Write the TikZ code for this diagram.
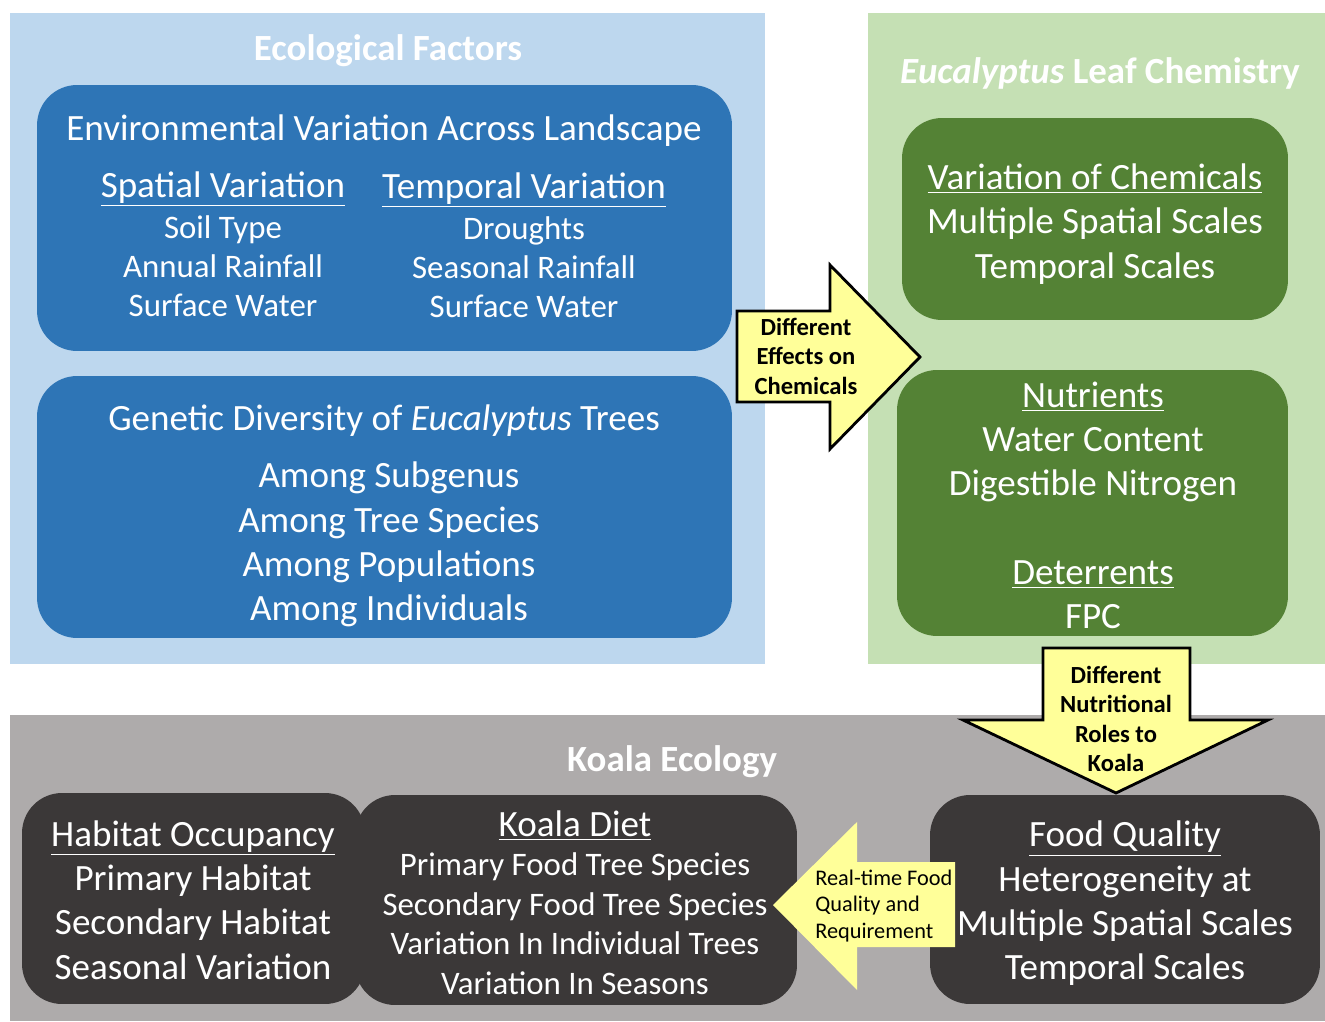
\documentclass[tikz,border=0pt]{standalone}
\usepackage{fontspec}
\setmainfont{Carlito}

\definecolor{panelblue}{HTML}{BDD7EE}
\definecolor{panelgreen}{HTML}{C5E0B4}
\definecolor{panelgrey}{HTML}{AEABAB}
\definecolor{boxblue}{HTML}{2E75B6}
\definecolor{boxgreen}{HTML}{548235}
\definecolor{boxdark}{HTML}{3B3838}
\definecolor{arrowyellow}{HTML}{FFFF99}

\tikzset{
  panel/.style={fill=#1, draw=none, inner sep=0pt},
  box/.style={fill=#1, draw=none, rounded corners=0.8cm, inner sep=0pt},
  bigtxt/.style={text=white, align=center, inner sep=0pt, font=\fontsize{21.1}{25.2}\selectfont},
  smalltxt/.style={text=white, align=center, inner sep=0pt, font=\fontsize{18.7}{22.2}\selectfont},
  headtxt/.style={text=white, inner sep=0pt, font=\bfseries\fontsize{21}{24}\selectfont},
  blockarrow/.style={fill=arrowyellow, draw=black, line width=1.6pt, line join=miter},
  arrowtxt/.style={align=center, inner sep=0pt, font=\bfseries\fontsize{14}{16.8}\selectfont}
}

\begin{document}
\begin{tikzpicture}[x=0.02cm, y=-0.02cm]
\useasboundingbox (0,0) rectangle (1325,1021);

% panels
\node[panel=panelblue, minimum width=15.1cm, minimum height=13.02cm] (ecopanel) at (387.5,338.5) {};
\node[panel=panelgreen, minimum width=9.14cm, minimum height=13.02cm] (leafpanel) at (1096.5,338.5) {};
\node[panel=panelgrey, minimum width=26.3cm, minimum height=6.12cm] (koalapanel) at (667.5,868) {};

\node[headtxt] (ecotitle) at (388,51) {Ecological Factors};
\node[headtxt] (leaftitle) at (1100,73) {\textit{Eucalyptus} Leaf Chemistry};
\node[headtxt] (koalatitle) at (672,762) {Koala Ecology};

% ecological factors
\node[box=boxblue, minimum width=13.9cm, minimum height=5.32cm] (envbox) at (384.5,218) {};
\node[bigtxt] (envtitle) at (384,131) {Environmental Variation Across Landscape};
\node[bigtxt] (spatialhd) at (223,189) {\underline{Spatial Variation}};
\node[smalltxt] (spatial) at (223,266) {Soil Type\\Annual Rainfall\\Surface Water};
\node[bigtxt] (temporalhd) at (524,190) {\underline{Temporal Variation}};
\node[smalltxt] (temporal) at (524,267.5) {Droughts\\Seasonal Rainfall\\Surface Water};

\node[box=boxblue, minimum width=13.9cm, minimum height=5.24cm] (genbox) at (384.5,507) {};
\node[bigtxt] (gentitle) at (384,421) {Genetic Diversity of \textit{Eucalyptus} Trees};
\node[bigtxt] (genlist) at (389,544.5) {Among Subgenus\\Among Tree Species\\Among Populations\\Among Individuals};

% leaf chemistry
\node[box=boxgreen, minimum width=7.72cm, minimum height=4.04cm] (chembox) at (1095,219) {};
\node[bigtxt] (chemlist) at (1095,224) {\underline{Variation of Chemicals}\\Multiple Spatial Scales\\Temporal Scales};

\node[box=boxgreen, minimum width=7.82cm, minimum height=5.32cm] (nutrbox) at (1092.5,503) {};
\node[bigtxt] (nutrlist) at (1093,442) {\underline{Nutrients}\\Water Content\\Digestible Nitrogen};
\node[bigtxt] (detrlist) at (1093,595) {\underline{Deterrents}\\FPC};

% koala ecology
\node[box=boxdark, minimum width=6.86cm, minimum height=4.22cm] (habitbox) at (193.5,898.5) {};
\node[bigtxt] (habitlist) at (193,900) {\underline{Habitat Occupancy}\\Primary Habitat\\Secondary Habitat\\Seasonal Variation};

\node[box=boxdark, minimum width=8.84cm, minimum height=4.2cm] (dietbox) at (576,900) {};
\node[bigtxt] (diethd) at (575,826) {\underline{Koala Diet}};
\node[smalltxt, font=\fontsize{18.7}{22.5}\selectfont] (dietlist) at (575,923.5) {Primary Food Tree Species\\Secondary Food Tree Species\\Variation In Individual Trees\\Variation In Seasons};

\node[box=boxdark, minimum width=7.8cm, minimum height=4.18cm] (foodbox) at (1125,899.5) {};
\node[bigtxt] (foodlist) at (1125,903.5) {\underline{Food Quality}\\Heterogeneity at\\Multiple Spatial Scales\\Temporal Scales};

% block arrows
\draw[blockarrow] (737,311) -- (830,311) -- (830,265) -- (920,357) -- (830,449) -- (830,402) -- (737,402) -- cycle;
\node[arrowtxt] (chemeffect) at (806,356) {Different\\Effects on\\Chemicals};

\draw[blockarrow] (1043,648) -- (1190,648) -- (1190,720) -- (1268,720) -- (1116,793) -- (963,720) -- (1043,720) -- cycle;
\node[arrowtxt] (nutrroles) at (1116,719) {Different\\Nutritional\\Roles to\\Koala};

\fill[arrowyellow] (773,905) -- (857,822) -- (857,862) -- (955,862) -- (955,947) -- (857,947) -- (857,990) -- cycle;
\node[arrowtxt, font=\fontsize{12.7}{15.3}\selectfont, align=left, anchor=west] (realtime) at (815,906) {Real-time Food\\Quality and\\Requirement};
\end{tikzpicture}
\end{document}
